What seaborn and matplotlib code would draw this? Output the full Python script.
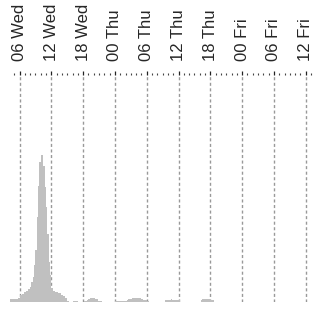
import numpy as np
import pandas as pd
import matplotlib
matplotlib.use("Agg")
import matplotlib.pyplot as plt
import seaborn as sns

# ---- data ----
# counts per 15-minute bin, first bin starting Wednesday 04:00 (hour 4)
bin_start_hour = 4.0
bin_hours = 0.25
counts = [
    3, 3, 3, 3, 3, 3, 3, 4, 7, 7,
    8, 10, 10, 11, 13, 13, 15, 20, 25, 37,
    52, 85, 116, 140, 147, 147, 136, 115, 95, 68,
    40, 27, 14, 11, 11, 10, 10, 9, 9, 7,
    7, 6, 4, 4, 1, 0, 0, 0, 1, 1,
    1, 1, 0, 0, 0, 0, 0, 1, 1, 2,
    3, 4, 4, 4, 4, 3, 3, 1, 1, 1,
    0, 0, 0, 0, 0, 0, 0, 0, 0, 0,
    1, 1, 1, 1, 1, 1, 1, 1, 1, 2,
    3, 3, 3, 4, 4, 4, 4, 4, 4, 4,
    3, 2, 2, 2, 1, 1, 0, 0, 0, 0,
    0, 0, 0, 0, 0, 0, 0, 0, 2, 2,
    2, 2, 3, 2, 2, 2, 2, 2, 2, 0,
    0, 0, 0, 0, 0, 0, 0, 0, 0, 0,
    0, 0, 0, 0, 0, 2, 3, 3, 3, 3,
    3, 3, 2, 2, 2,
]
tick_hours = [6, 12, 18, 24, 30, 36, 42, 48, 54, 60]
tick_labels = ["06 Wed", "12 Wed", "18 Wed", "00 Thu", "06 Thu",
               "12 Thu", "18 Thu", "00 Fri", "06 Fri", "12 Fri"]
x_range = (4.1, 61.8)
y_max = 226

# ---- figure ----
sns.set_style("white")
plt.rcParams["font.family"] = ["Liberation Sans", "DejaVu Sans"]

W, H = 325, 311
fig = plt.figure(figsize=(W / 100, H / 100), dpi=100)
left_px, top_px, bottom_px = 9.5, 75.5, 302
width_px = 305.8
ax = fig.add_axes([left_px / W, (H - bottom_px) / H, width_px / W, (bottom_px - top_px) / H])

n = len(counts)
edges = [bin_start_hour + bin_hours * i for i in range(n + 1)]
df = pd.DataFrame({
    "hour": [(edges[i] + edges[i + 1]) / 2 for i in range(n)],
    "count": counts,
})
sns.histplot(data=df, x="hour", weights="count", bins=edges, ax=ax,
             color="#c0c0c0", alpha=1, edgecolor="none", linewidth=0)

ax.set_xlim(*x_range)
ax.set_ylim(0, y_max)
ax.set_xlabel("")
ax.set_ylabel("")
ax.set_yticks([])

ax.xaxis.tick_top()
ax.set_xticks(tick_hours)
ax.set_xticklabels(tick_labels, rotation=90, fontsize=12)
ax.set_xticks(np.arange(5, 62, 1), minor=True)
ax.tick_params(axis="x", which="major", direction="out", length=3.2, width=0.9,
               color="#222222", pad=7, top=True, bottom=False,
               labeltop=True, labelbottom=False)
ax.tick_params(axis="x", which="minor", direction="out", length=1.5, width=0.8,
               color="#444444", top=True, bottom=False)

for h in tick_hours:
    ax.axvline(h, color="#999999", lw=1.0, ls=(0, (2.2, 1.8)), zorder=0)

for s in ax.spines.values():
    s.set_visible(False)

fig.savefig("out.png", dpi=100)
